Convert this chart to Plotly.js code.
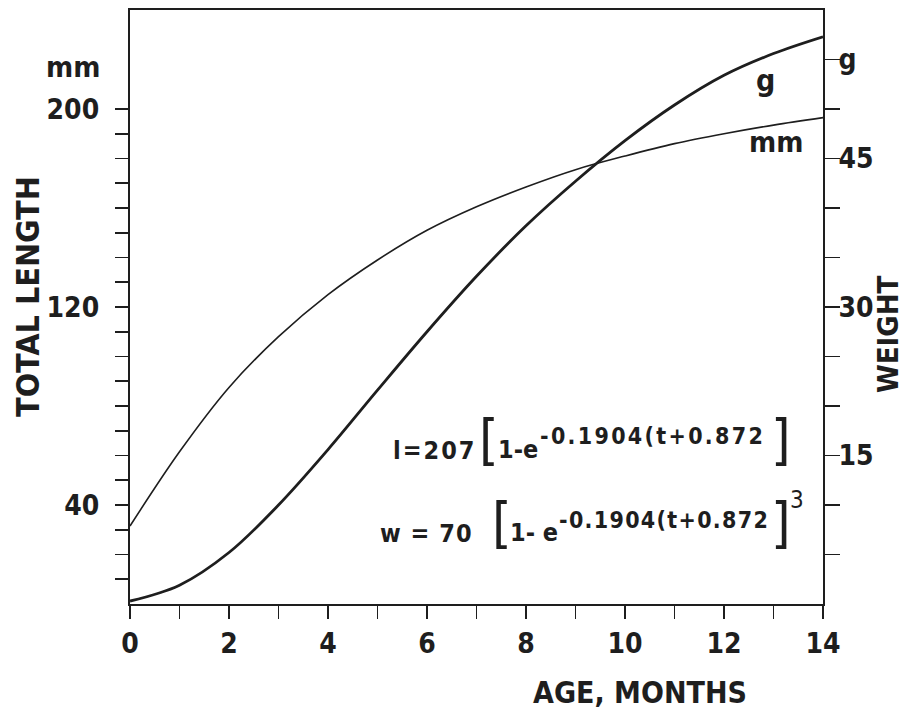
<!DOCTYPE html>
<html>
<head>
<meta charset="utf-8">
<script src="https://cdn.plot.ly/plotly-3.0.1.min.js"></script>
<style>html,body{margin:0;padding:0;background:#fff;}#chart{width:907px;height:710px;}</style>
</head>
<body>
<div id="chart"></div>
<script>
// ---- data ----
const months = [0, 1, 2, 3, 4, 5, 6, 7, 8, 9, 10, 11, 12, 13, 14];
const lengthMm = [31.5, 61.5, 87.5, 108, 125, 139, 151, 160.5, 168.5, 175.5, 181, 186, 190, 193.5, 196.5];
const weightG = [0.3, 1.9, 5.2, 10.0, 15.6, 21.6, 27.5, 33.1, 38.2, 42.7, 46.8, 50.4, 53.4, 55.6, 57.3];

const xTickVals = [0, 1, 2, 3, 4, 5, 6, 7, 8, 9, 10, 11, 12, 13, 14];
const xTickText = ['0', '', '2', '', '4', '', '6', '', '8', '', '10', '', '12', '', '14'];
const lenTickVals = [10, 20, 30, 40, 50, 60, 70, 80, 90, 100, 110, 120, 130, 140, 150, 160, 170, 180, 190, 200];
const lenTickText = ['', '', '', '40', '', '', '', '', '', '', '', '120', '', '', '', '', '', '', '', '200'];
const wTickVals = [5, 10, 15, 20, 25, 30, 35, 40, 45, 50, 55];
const wTickText = ['', '', '15', '', '', '30', '', '', '45', '', 'g'];

// ---- layout geometry ----
const W = 907, H = 710;
const M = {l: 130, r: 84, t: 10, b: 106};
const PW = W - M.l - M.r, PH = H - M.t - M.b;
const FONT = '"DejaVu Sans Condensed", "DejaVu Sans", sans-serif';
const INK = '#1e1e1e';

function px(x) { return (x - M.l) / PW; }
function py(y) { return (H - M.b - y) / PH; }
function ann(text, x, y, size, o) {
  o = o || {};
  return Object.assign({
    text: text, xref: 'paper', yref: 'paper', x: px(x), y: py(y),
    xanchor: o.xa || 'left', yanchor: 'middle', showarrow: false,
    borderpad: 0, textangle: o.angle || 0,
    font: {family: FONT, size: size, color: INK, weight: o.weight === undefined ? 700 : o.weight}
  }, o.extra || {});
}
function sp(t, ls) { return '<span style="letter-spacing:' + ls + 'px">' + t + '</span>'; }

const traces = [
  {x: months, y: lengthMm, type: 'scatter', mode: 'lines', yaxis: 'y',
   line: {color: INK, width: 1.6, shape: 'spline', smoothing: 1}, hoverinfo: 'skip'},
  {x: months, y: weightG, type: 'scatter', mode: 'lines', yaxis: 'y2',
   line: {color: INK, width: 2.8, shape: 'spline', smoothing: 1}, hoverinfo: 'skip'}
];

const tickFont = {family: FONT, size: 28, color: INK, weight: 700};

const layout = {
  width: W, height: H,
  margin: M,
  paper_bgcolor: '#fff', plot_bgcolor: '#fff',
  showlegend: false,
  xaxis: {
    range: [0, 14], tickvals: xTickVals, ticktext: xTickText,
    ticks: 'outside', ticklen: 13, tickwidth: 1.8, tickcolor: INK,
    showline: true, linewidth: 2, linecolor: INK, mirror: true,
    showgrid: false, zeroline: false, tickfont: tickFont, ticklabelstandoff: 0
  },
  yaxis: {
    range: [0, 240], tickvals: lenTickVals, ticktext: lenTickText,
    ticks: 'outside', ticklen: 13, tickwidth: 1.8, tickcolor: INK,
    showline: true, linewidth: 2.2, linecolor: INK,
    showgrid: false, zeroline: false, tickfont: tickFont, ticklabelstandoff: 10
  },
  yaxis2: {
    range: [0, 60], overlaying: 'y', side: 'right',
    tickvals: wTickVals, ticktext: wTickText,
    ticks: 'outside', ticklen: 15, tickwidth: 1.8, tickcolor: INK,
    showline: true, linewidth: 1.8, linecolor: INK,
    showgrid: false, zeroline: false, tickfont: tickFont, ticklabelstandoff: -7
  },
  annotations: [
    ann('TOTAL LENGTH', 28, 296, 32, {xa: 'center', angle: -90}),
    ann('WEIGHT', 888, 334, 29, {xa: 'center', angle: -90}),
    ann('AGE, MONTHS', 640, 692, 30, {xa: 'center'}),
    ann('mm', 101, 67, 29, {xa: 'right'}),
    ann('g', 765, 80, 30, {xa: 'center'}),
    ann('mm', 776, 142, 29, {xa: 'center'}),
    // formula 1
    ann(sp('l=207', 2), 392, 450, 25),
    ann('[', 478, 440, 56, {weight: 400}),
    ann('1-e', 497, 449, 25),
    ann(sp('-0.1904(t+0.872', 2.3), 539, 436, 23),
    ann(']', 770, 440, 56, {weight: 400}),
    // formula 2
    ann(sp('w = 70', 1), 379, 533, 25),
    ann('[', 491, 522, 56, {weight: 400}),
    ann('1- e', 509, 532, 25),
    ann(sp('-0.1904(t+0.872', 1.3), 558, 520, 23),
    ann(']', 770, 522, 56, {weight: 400}),
    ann('3', 789, 500, 24, {weight: 400})
  ]
};

Plotly.newPlot('chart', traces, layout, {staticPlot: true, displayModeBar: false});
</script>
</body>
</html>
